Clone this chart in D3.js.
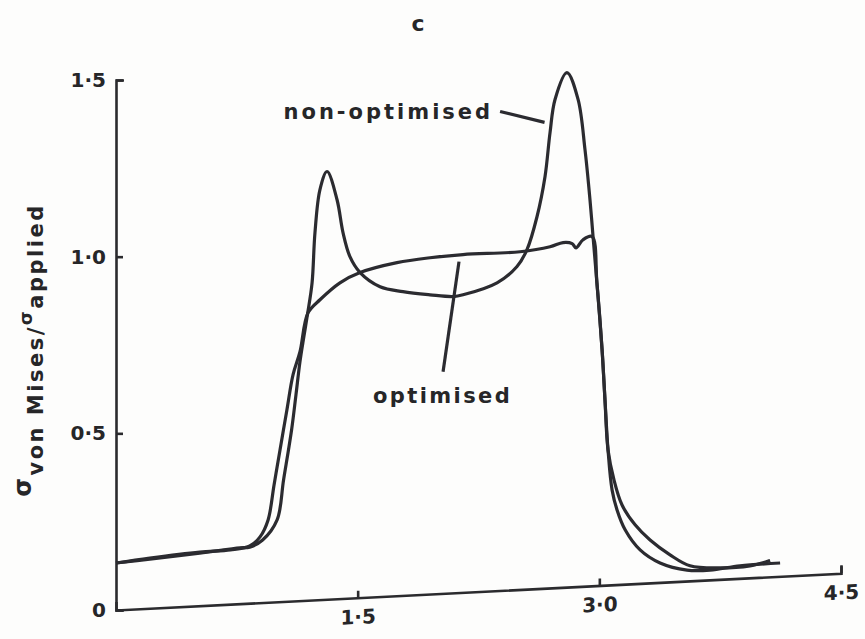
<html>
<head>
  <script src="https://d3js.org/d3.v7.min.js"></script>
  <style>
    body { margin: 0; background: #fdfdfc; }
    .lbl {
      font-family: "DejaVu Sans", sans-serif;
      font-weight: bold;
      fill: #262628;
    }
    .axis path, .axis line { stroke: #2b2b2e; stroke-width: 2.6; }
    .axis text {
      font-family: "DejaVu Sans", sans-serif;
      font-weight: bold;
      font-size: 20px;
      fill: #262628;
    }
    .curve { fill: none; stroke: #2b2b30; stroke-width: 3.2; stroke-linejoin: round; }
  </style>
</head>
<body>
<svg id="chart" width="865" height="639"></svg>
<script>
  // values
  const nonOptX = [0.00, 0.21, 0.52, 0.77, 0.83, 0.91, 1.00, 1.04, 1.09, 1.117, 1.142, 1.167, 1.19, 1.217, 1.235,
                   1.266, 1.31, 1.372, 1.409, 1.452, 1.515, 1.639, 1.781, 1.949, 2.092, 2.154, 2.365, 2.489,
                   2.551, 2.613, 2.663, 2.694, 2.725, 2.799, 2.868, 2.911, 2.942, 2.961, 2.985, 3.017, 3.035,
                   3.054, 3.079, 3.11, 3.16, 3.253, 3.377, 3.544, 3.687, 3.873, 4.122];
  const nonOptY = [0.133, 0.144, 0.161, 0.176, 0.178, 0.198, 0.255, 0.368, 0.51, 0.609, 0.703, 0.776, 0.841, 0.926, 1.068,
                   1.19, 1.241, 1.161, 1.068, 1.0, 0.955, 0.915, 0.901, 0.892, 0.887, 0.892, 0.926, 0.972,
                   1.02, 1.113, 1.227, 1.351, 1.445, 1.521, 1.445, 1.303, 1.161, 1.057, 0.926, 0.737, 0.595,
                   0.453, 0.34, 0.283, 0.227, 0.17, 0.133, 0.113, 0.113, 0.125, 0.133];

  const optX = [0.00, 0.21, 0.52, 0.71, 0.83, 0.894, 0.944, 0.981, 1.018, 1.061, 1.099, 1.142, 1.192, 1.266, 1.39,
                1.515, 1.744, 1.949, 2.154, 2.508, 2.694, 2.775, 2.831, 2.855, 2.899, 2.955, 2.985,
                3.017, 3.035, 3.054, 3.091, 3.141, 3.222, 3.315, 3.439, 3.563, 3.749, 3.935, 4.06];
  const optY = [0.133, 0.147, 0.164, 0.17, 0.181, 0.207, 0.255, 0.354, 0.453, 0.567, 0.666, 0.731, 0.841, 0.878, 0.926,
                0.955, 0.983, 0.997, 1.006, 1.014, 1.028, 1.04, 1.037, 1.025, 1.048, 1.057, 0.926,
                0.737, 0.595, 0.453, 0.368, 0.297, 0.241, 0.198, 0.156, 0.125, 0.119, 0.125, 0.14];

  const xTicks = [1.5, 3.0, 4.5];
  const yTicks = [0, 0.5, 1.0, 1.5];
  const panelLabel = "c";
  const nonOptLabel = "non-optimised";
  const optLabel = "optimised";

  const svg = d3.select("svg#chart");
  const margin = {top: 80, left: 116};
  const chartWidth = 725;
  const chartHeight = 530;

  const xScale = d3.scaleLinear().domain([0, 4.5]).range([0, chartWidth]);
  const yScale = d3.scaleLinear().domain([0, 1.5]).range([chartHeight, 0]);
  const fmt = d => d === 0 ? "0" : d.toFixed(1).replace(".", "\u00b7");

  let chart = svg.append("g")
                 .attr("transform", "translate(" + margin.left + "," + margin.top + ")");

  // the hand-drawn x axis runs slightly uphill
  let bottomAxis = d3.axisBottom(xScale).tickValues(xTicks).tickFormat(fmt)
                     .tickSizeInner(-7).tickSizeOuter(-8).tickPadding(12);
  chart.append("g").attr("class", "axis")
       .attr("transform", "translate(0," + chartHeight + ") skewY(-2.9)")
       .call(bottomAxis);

  let leftAxis = d3.axisLeft(yScale).tickValues(yTicks).tickFormat(fmt)
                   .tickSizeInner(-7).tickSizeOuter(-8).tickPadding(10);
  chart.append("g").attr("class", "axis").call(leftAxis);

  const line = d3.line()
                 .x(d => xScale(d[0]))
                 .y(d => yScale(d[1]))
                 .curve(d3.curveCatmullRom.alpha(0.5));

  chart.append("path").attr("class", "curve")
       .attr("d", line(nonOptX.map((x, i) => [x, nonOptY[i]])));
  chart.append("path").attr("class", "curve")
       .attr("d", line(optX.map((x, i) => [x, optY[i]])));

  // annotation leaders
  chart.append("line").attr("class", "curve")
       .attr("x1", xScale(2.384)).attr("y1", yScale(1.411))
       .attr("x2", xScale(2.66)).attr("y2", yScale(1.38));
  chart.append("line").attr("class", "curve")
       .attr("x1", xScale(2.129)).attr("y1", yScale(0.986))
       .attr("x2", xScale(2.03)).attr("y2", yScale(0.674));

  chart.append("text").attr("class", "lbl")
       .attr("x", xScale(1.04)).attr("y", yScale(1.39))
       .style("font-size", "21px").style("letter-spacing", "3px")
       .text(nonOptLabel);
  chart.append("text").attr("class", "lbl")
       .attr("x", xScale(1.595)).attr("y", yScale(0.585))
       .style("font-size", "21px").style("letter-spacing", "2.4px")
       .text(optLabel);

  svg.append("text").attr("class", "lbl")
     .attr("x", 418).attr("y", 31)
     .attr("text-anchor", "middle")
     .style("font-size", "22px")
     .text(panelLabel);

  // y axis title with subscripts
  let ylab = svg.append("text").attr("class", "lbl")
                .attr("transform", "translate(43,350) rotate(-90)")
                .attr("text-anchor", "middle")
                .style("font-size", "21px")
                .style("letter-spacing", "2.5px");
  ylab.append("tspan").text("\u03c3").attr("dy", -12).style("font-size", "24px");
  ylab.append("tspan").text("von Mises/").attr("dy", 12);
  ylab.append("tspan").text("\u03c3").attr("dy", -11).style("font-size", "18px");
  ylab.append("tspan").text("applied").attr("dy", 11);
</script>
</body>
</html>
